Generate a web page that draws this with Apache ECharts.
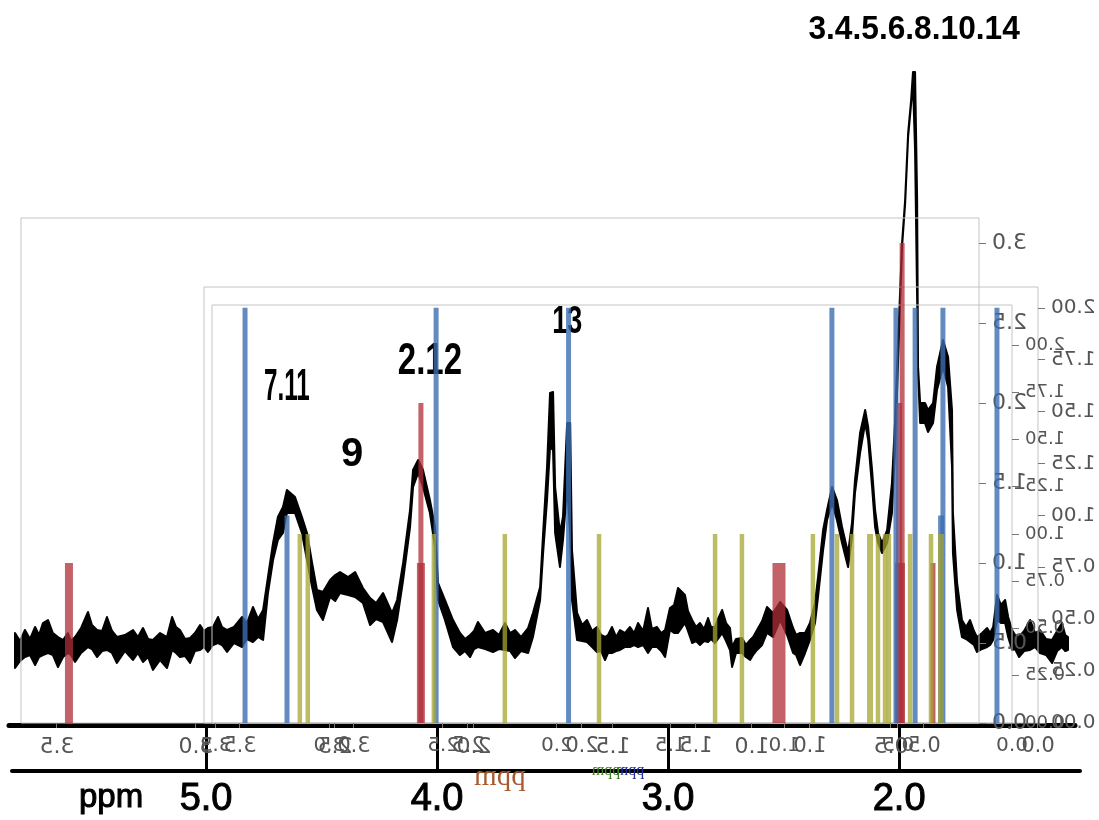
<!DOCTYPE html>
<html><head><meta charset="utf-8">
<style>html,body{margin:0;padding:0;background:#fff;width:1099px;height:820px;overflow:hidden}
#scan,#overlay{position:absolute;left:0;top:0;width:1099px;height:820px}
#overlay{transform:scaleX(-1);pointer-events:none}</style>
<script src="https://cdn.jsdelivr.net/npm/echarts@6/dist/echarts.min.js"></script>
</head><body><div id="scan"></div><div id="overlay"></div>
<script>
// Scanned 1H spectrum: ppm station, upper and lower edge of the trace (relative intensity)
const tracePpm = [
5.827,5.805,5.784,5.762,5.740,5.723,5.706,5.684,5.663,5.641,5.619,5.598,5.585,5.567,5.541,5.511,5.494,5.472,5.450,5.429,5.407,5.386,5.351,5.316,5.295,5.273,5.251,5.230,5.199,5.169,5.147,5.130,5.113,5.091,5.069,5.048,5.026,5.009,4.992,4.970,4.948,4.931,4.909,4.879,4.844,4.823,4.797,4.775,4.753,
4.732,4.710,4.689,4.667,4.650,4.615,4.585,4.563,4.541,4.520,
4.494,4.463,4.441,4.420,4.385,4.355,4.321,4.290,4.264,4.234,4.195,4.173,
4.147,4.117,4.104,4.082,4.061,4.031,4.009,3.996,3.966,
3.931,3.901,3.879,3.857,3.840,3.823,3.792,3.758,3.732,3.706,3.684,3.663,3.637,3.606,3.585,
3.554,3.541,3.524,3.511,3.498,3.489,3.468,3.455,3.437,3.424,3.416,
3.394,3.372,3.351,3.329,3.308,3.290,3.273,3.260,3.243,3.225,3.208,3.186,3.165,3.147,3.130,3.108,3.087,3.070,3.048,3.030,3.013,2.992,2.974,2.957,2.927,2.914,2.896,2.879,2.862,2.844,2.827,2.814,2.797,2.784,2.766,2.749,2.732,2.723,2.706,2.680,2.663,2.645,2.632,2.615,2.593,2.572,2.546,2.515,2.485,2.459,2.446,2.429,2.407,2.386,2.364,
2.351,2.329,2.312,2.290,2.269,2.247,2.221,2.204,2.191,2.169,2.147,2.134,2.117,2.104,2.091,2.074,2.052,2.031,2.018,2.009,1.987,1.974,1.961,1.948,1.940,1.931,1.922,1.918,1.909,1.888,1.875,1.853,1.836,1.810,1.788,1.771,1.767,1.749,
1.728,1.710,1.693,1.676,1.663,1.641,1.619,1.606,1.593,1.576,1.559,1.541,1.528,1.511,1.498,1.481,1.459,1.433,1.411,1.390,1.364,1.338,1.316,1.295,1.281,1.269];
const traceHigh = [
90,82,93,84,96,88,100,103,90,86,83,90,82,86,95,111,98,93,92,106,92,86,88,93,86,95,84,83,90,86,106,96,93,84,85,90,98,92,95,96,106,96,93,96,106,100,116,104,113,
146,180,206,216,233,226,206,190,160,133,
131,143,148,151,146,151,135,125,120,130,110,123,
160,213,253,263,253,223,196,140,123,
103,90,84,88,92,101,90,93,88,100,90,93,86,95,110,
136,190,256,330,331,236,190,206,300,300,173,
110,98,103,92,96,88,86,88,96,86,93,90,96,90,100,92,115,94,96,90,93,115,118,135,128,112,103,96,100,94,105,96,96,104,113,100,95,76,84,85,78,83,86,93,102,116,110,121,113,95,88,90,90,100,120,
146,193,213,236,223,196,170,200,243,290,313,296,253,213,190,180,193,240,300,356,481,523,590,623,651,651,523,356,320,320,313,320,356,383,366,313,210,140,
103,96,103,92,86,90,95,90,96,128,118,123,106,93,88,86,92,103,90,93,84,83,92,100,88,86];
const traceLow = [
55,62,66,68,58,66,68,70,68,56,66,70,68,61,70,76,74,66,72,73,70,60,72,63,70,61,66,53,63,55,73,70,66,67,60,72,73,76,71,78,80,78,71,80,76,84,81,86,83,
130,163,183,190,210,210,190,163,136,113,
103,126,122,130,128,126,120,98,104,101,81,103,
143,196,236,250,236,210,176,123,103,
76,68,72,66,74,76,74,71,74,73,72,65,72,70,86,
123,170,223,276,273,190,156,183,236,190,123,
83,82,81,76,71,72,63,70,70,72,73,76,76,78,76,78,70,76,76,72,66,93,90,90,100,92,80,82,78,82,81,84,80,84,90,82,73,56,70,70,66,63,68,73,78,90,86,103,88,70,68,58,70,83,100,
126,173,203,220,203,180,156,186,230,270,300,283,236,196,180,170,180,210,270,330,477,519,586,619,640,573,423,350,300,300,291,300,333,356,336,256,170,113,
86,84,81,78,71,74,76,78,83,103,100,100,86,73,74,66,72,73,76,70,68,60,72,76,72,73];
const scaleTicks = [5,4,3,2];
const scaleLabelPpm = [5.411,5,4,3,2];
const peakNames = ["3.4.5.6.8.10.14","7.11","9","2.12","13"];
const peakPpm = [1.935,4.650,4.368,4.031,3.437];
const peakHeights = [693,335,268,361,400];
const peakSizes = [33,44,40,44,38];
const peakStretch = [0.96,0.55,1,0.75,0.71];

// Predicted shifts drawn over it
const redXTicks = [0.5,1,1.5,2,2.5,3,3.5];
const redYTicks = [0,0.5,1,1.5,2,2.5,3];
const redNarrowX = [2.191,0.460,0.349], redNarrowY = [2,3,1];
const redMidX = [0.471], redMidY = [2];
const redBroadX = [3.457,2.191], redBroadY = [1,1];
const redWiderX = [0.468], redWiderY = [1];
const redWidestX = [0.903], redWidestY = [1];
const blueXTicks = [0,0.5,1,1.5,2,2.5,3,3.5];
const blueYTicks = [0,0.25,0.5,0.75,1,1.25,1.5,1.75,2];
const blueX = [3.478,3.294,2.640,2.059,0.904,0.623,0.539,0.417,0.180], blueY = [2,1,2,2,2,2,2,2,2];
const blueBroadX = [0.425], blueBroadY = [1];
const oliveXTicks = [0,0.5,1,1.5,2,2.5,3,3.5];
const oliveYTicks = [0,0.25,0.5,0.75,1,1.25,1.5,1.75,2];
const oliveX = [3.130,3.095,2.541,2.229,1.815,1.305,1.187,0.875,0.769,0.703,0.589,0.558,0.541,0.448,0.356], oliveY = [1,1,1,1,1,1,1,1,1,1,1,1,1,1,1];
const oliveBroadX = [0.624,0.312], oliveBroadY = [1,1];

const zip = (a, b) => a.map((v, i) => [v, b[i]]);

// ---- upright layer: the scanned trace ----
const scanChart = echarts.init(document.getElementById('scan'), null, {renderer:'canvas'});
const handFont = '"Liberation Sans",sans-serif';
scanChart.setOption({
  animation:false, backgroundColor:'#fff',
  grid:[{left:12, top:0, width:1068, height:771},{left:9, top:0, width:1066, height:725}],
  xAxis:[{type:'value', inverse:true, min:1.217, max:5.84, splitLine:{show:false},
    axisLine:{show:true, onZero:false, lineStyle:{color:'#000', width:4}},
    axisTick:{show:true, inside:true, length:45, lineStyle:{color:'#000', width:3}, customValues:scaleTicks},
    axisLabel:{show:true, margin:10, color:'#000', fontFamily:handFont, fontSize:38,
      textBorderColor:'#000', textBorderWidth:1, customValues:scaleLabelPpm,
      formatter:v => v > 5.2 ? '{u|ppm}' : v.toFixed(1),
      rich:{u:{fontSize:33, fontFamily:handFont, color:'#000', textBorderColor:'#000', textBorderWidth:1}}}},
    {type:'value', gridIndex:1, inverse:true, min:1.24, max:5.853, splitLine:{show:false},
      axisLine:{show:true, onZero:false, lineStyle:{color:'#000', width:5}},
      axisTick:{show:false}, axisLabel:{show:false}}],
  yAxis:[{type:'value', min:-48, max:723, show:false, splitLine:{show:false}},
    {type:'value', gridIndex:1, min:0, max:725, show:false, splitLine:{show:false}}],
  series:[
    {type:'custom', name:'trace', clip:false, encode:{x:0, y:1},
      data:zip(tracePpm, traceHigh),
      renderItem:(params, api) => {
        if (params.dataIndex !== 0) return null;
        const top = tracePpm.map((p,i)=>api.coord([p, traceHigh[i]]));
        const bottom = tracePpm.map((p,i)=>api.coord([p, traceLow[i]])).reverse();
        return {type:'polygon', shape:{points:top.concat(bottom)}, style:{fill:'#000', stroke:'#000', lineWidth:2, lineJoin:'round'}};
      }},
    {type:'custom', name:'assignments', clip:false, encode:{x:0, y:1},
      data:zip(peakPpm, peakHeights),
      renderItem:(params, api) => {
        const i = params.dataIndex, pt = api.coord([api.value(0), api.value(1)]);
        return {type:'text', x:pt[0], y:pt[1], scaleX:peakStretch[i],
          style:{x:0, y:0, text:peakNames[i], align:'center', verticalAlign:'middle', fill:'#000',
            font:'bold '+peakSizes[i]+'px '+handFont}};
      }}
  ]
});

// ---- mirrored layer: three overlaid bar plots ----
const overlayChart = echarts.init(document.getElementById('overlay'), null, {renderer:'canvas'});
const frames = [
  {left:120, width:958, top:218, height:505, xMin:0.1835, xMax:3.6295, yMax:3.156, xTicks:redXTicks, yTicks:redYTicks, digits:1, font:22, xFont:22, name:'#a9592f', nameSize:29, nameGap:38, pad:0},
  {left:61,  width:834, top:287, height:436, xMin:0, xMax:3.658, yMax:2.1,  xTicks:blueXTicks, yTicks:blueYTicks, digits:2, font:20, xFont:21, name:'#1c2f9c', nameSize:16, nameGap:40, pad:[0,18,0,0]},
  {left:87,  width:800, top:305, height:418, xMin:0, xMax:3.516, yMax:2.2116, xTicks:oliveXTicks, yTicks:oliveYTicks, digits:2, font:18, xFont:20, name:'#3f7f1f', nameSize:16, nameGap:40, pad:[0,0,0,12]}
];
const RED='rgba(175,45,55,0.75)', BLUE='rgba(60,110,175,0.8)', OLIVE='rgba(165,165,50,0.75)';
const groups = [
  {f:0, w:5,  c:RED,   x:redNarrowX, y:redNarrowY},
  {f:0, w:6,  c:RED,   x:redMidX, y:redMidY},
  {f:0, w:8,  c:RED,   x:redBroadX, y:redBroadY},
  {f:0, w:10, c:RED,   x:redWiderX, y:redWiderY},
  {f:0, w:13, c:RED,   x:redWidestX, y:redWidestY},
  {f:1, w:5,  c:BLUE,  x:blueX, y:blueY},
  {f:1, w:6,  c:BLUE,  x:blueBroadX, y:blueBroadY},
  {f:2, w:4.5,c:OLIVE, x:oliveX, y:oliveY},
  {f:2, w:6,  c:OLIVE, x:oliveBroadX, y:oliveBroadY}
];
const labelFont = '"DejaVu Sans",sans-serif';
const xAxes = frames.map((f,i)=>({
  type:'value', gridIndex:i, min:f.xMin, max:f.xMax, splitLine:{show:false},
  name:'ppm', nameLocation:'middle', nameGap:f.nameGap,
  nameTextStyle:{color:f.name, fontFamily:'"Liberation Serif",serif', fontSize:f.nameSize, padding:f.pad},
  axisLine:{show:false},
  axisTick:{show:true, length:5, lineStyle:{color:'#777'}, customValues:f.xTicks},
  axisLabel:{show:true, margin:13, color:'#555', fontFamily:labelFont, fontSize:f.xFont, customValues:f.xTicks,
    formatter:v=>v.toFixed(1)}
}));
const yAxes = frames.map((f,i)=>({
  type:'value', gridIndex:i, min:0, max:f.yMax, splitLine:{show:false},
  axisLine:{show:false},
  axisTick:{show:true, length:7, lineStyle:{color:'#777'}, customValues:f.yTicks},
  axisLabel:{show:true, margin:13, color:'#555', fontFamily:labelFont, fontSize:f.font, customValues:f.yTicks,
    formatter:v=>v.toFixed(f.digits)}
}));
const series = groups.map(g=>{
  const f = frames[g.f];
  xAxes.push({type:'value', gridIndex:g.f, min:f.xMin, max:f.xMax, show:false, splitLine:{show:false}});
  return {type:'bar', xAxisIndex:xAxes.length-1, yAxisIndex:g.f, barWidth:g.w, itemStyle:{color:g.c},
    data:zip(g.x, g.y)};
});
overlayChart.setOption({
  animation:false, backgroundColor:'transparent',
  grid:frames.map(f=>({left:f.left, width:f.width, top:f.top, height:f.height, show:true, borderColor:'#c4c4c4', borderWidth:1, backgroundColor:'transparent'})),
  xAxis:xAxes, yAxis:yAxes, series
});
</script></body></html>
